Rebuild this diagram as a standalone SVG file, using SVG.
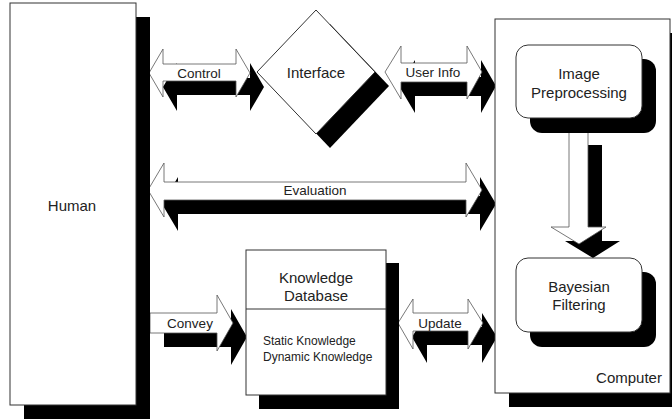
<svg xmlns="http://www.w3.org/2000/svg" width="672" height="419" viewBox="0 0 672 419">
<style>
.box{fill:#fff;stroke:#333;stroke-width:1}
.sh{fill:#000}
.arr{fill:#fff;stroke:#555;stroke-width:0.8}
.t{font-family:"Liberation Sans",Arial,sans-serif;fill:#222;text-anchor:middle;dominant-baseline:central}
</style>
<rect width="672" height="419" fill="#fff"/>
<g id="connectors">
  <g id="control">
    <path class="sh" transform="translate(14,14)" d="M149,73 L163,49 L163,64 L236,64 L236,49 L250,73 L236,97 L236,81 L163,81 L163,97 Z"/>
    <path class="arr" d="M149,73 L163,49 L163,64 L236,64 L236,49 L250,73 L236,97 L236,81 L163,81 L163,97 Z"/>
    <text class="t" x="199" y="73" font-size="13.5">Control</text>
  </g>
  <g id="userinfo">
    <path class="sh" transform="translate(14,14)" d="M385,72 L401,46 L401,63 L467,63 L467,46 L482,72 L467,99 L467,82 L401,82 L401,99 Z"/>
    <path class="arr" d="M385,72 L401,46 L401,63 L467,63 L467,46 L482,72 L467,99 L467,82 L401,82 L401,99 Z"/>
    <text class="t" x="433" y="72" font-size="13.5">User Info</text>
  </g>
  <g id="evaluation">
    <path class="sh" transform="translate(14,14)" d="M148,190 L164,163 L164,182 L466,182 L466,163 L482,190 L466,217 L466,200 L164,200 L164,217 Z"/>
    <path class="arr" d="M148,190 L164,163 L164,182 L466,182 L466,163 L482,190 L466,217 L466,200 L164,200 L164,217 Z"/>
    <text class="t" x="315" y="190" font-size="13.5">Evaluation</text>
  </g>
  <g id="convey">
    <path class="sh" transform="translate(14,14)" d="M150,313 L217,313 L217,295 L233,323 L217,351 L217,333 L150,333 Z"/>
    <path class="arr" d="M150,313 L217,313 L217,295 L233,323 L217,351 L217,333 L150,333 Z"/>
    <text class="t" x="190" y="323" font-size="13.5">Convey</text>
  </g>
  <g id="update">
    <path class="sh" transform="translate(14,14)" d="M398,323 L413,299 L413,313 L468,313 L468,299 L483,323 L468,349 L468,331 L413,331 L413,349 Z"/>
    <path class="arr" d="M398,323 L413,299 L413,313 L468,313 L468,299 L483,323 L468,349 L468,331 L413,331 L413,349 Z"/>
    <text class="t" x="440" y="323" font-size="13.5">Update</text>
  </g>
</g>
<g id="human">
  <rect class="sh" x="24" y="17" width="126" height="402"/>
  <rect class="box" x="10" y="3" width="126" height="402"/>
  <text class="t" x="72" y="205" font-size="15">Human</text>
</g>
<g id="interface">
  <path class="sh" transform="translate(14,14)" d="M316,10 L375,72 L316,134 L257,72 Z"/>
  <path class="box" d="M316,10 L375,72 L316,134 L257,72 Z"/>
  <text class="t" x="316" y="72" font-size="15">Interface</text>
</g>
<g id="knowledge">
  <rect class="sh" x="259" y="263" width="140" height="146"/>
  <rect class="box" x="246" y="250" width="140" height="145"/>
  <line x1="246" y1="309" x2="386" y2="309" stroke="#333" stroke-width="1"/>
  <text class="t" x="316" y="277" font-size="15">Knowledge</text>
  <text class="t" x="316" y="295" font-size="15">Database</text>
  <text class="t" x="263" y="341" font-size="12" style="text-anchor:start">Static Knowledge</text>
  <text class="t" x="263" y="357" font-size="12" style="text-anchor:start">Dynamic Knowledge</text>
</g>
<g id="computer">
  <rect class="sh" x="509" y="33" width="175" height="374"/>
  <rect class="box" x="495" y="19" width="175" height="374"/>
  <text class="t" x="629" y="377" font-size="15">Computer</text>
</g>
<g id="arrow-down">
  <path class="sh" transform="translate(14,14)" d="M569,131 L588,131 L588,227 L606,227 L579,244 L551,227 L569,227 Z"/>
  <path class="arr" d="M569,131 L588,131 L588,227 L606,227 L579,244 L551,227 L569,227 Z"/>
</g>
<g id="image-preprocessing">
  <rect class="sh" x="530" y="59" width="126" height="74" rx="12"/>
  <rect class="box" x="516" y="45" width="126" height="73" rx="12"/>
  <text class="t" x="579" y="73" font-size="15">Image</text>
  <text class="t" x="579" y="92" font-size="15">Preprocessing</text>
</g>
<g id="bayesian-filtering">
  <rect class="sh" x="530" y="272" width="126" height="75" rx="12"/>
  <rect class="box" x="516" y="258" width="126" height="74" rx="12"/>
  <text class="t" x="579" y="286" font-size="15">Bayesian</text>
  <text class="t" x="579" y="304" font-size="15">Filtering</text>
</g>
</svg>
